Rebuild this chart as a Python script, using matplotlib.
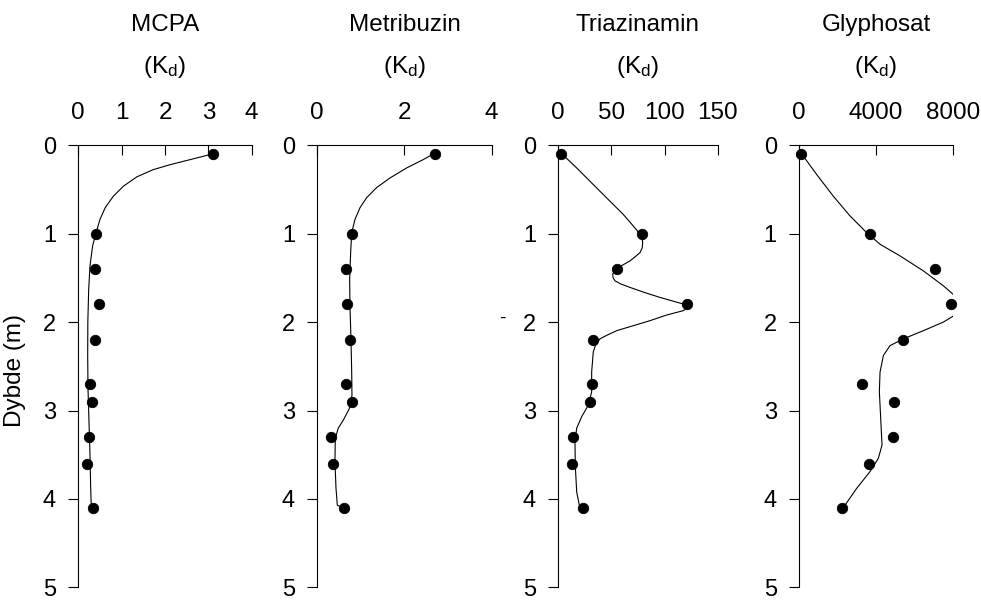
import matplotlib
matplotlib.use("Agg")
import matplotlib.pyplot as plt

plt.rcParams['font.family'] = ['Liberation Sans', 'DejaVu Sans']
plt.rcParams['mathtext.fontset'] = 'custom'
plt.rcParams['mathtext.rm'] = 'Liberation Sans'
plt.rcParams['mathtext.default'] = 'regular'

# measured depths (m)
depth = [0.1, 1.0, 1.4, 1.8, 2.2, 2.7, 2.9, 3.3, 3.6, 4.1]

# Kd values per compound
mcpa = [3.10, 0.41, 0.38, 0.48, 0.38, 0.27, 0.32, 0.25, 0.20, 0.33]
metribuzin = [2.70, 0.79, 0.67, 0.69, 0.75, 0.65, 0.80, 0.31, 0.35, 0.61]
triazinamin = [2.5, 78.5, 55, 121.4, 32.4, 31.4, 29.8, 13.5, 12.6, 23.5]
glyphosat = [100, 3700, 7080, 7890, 5430, 3300, 4940, 4910, 3640, 2250]

# smoothed curves
mcpa_curve_depth = [0.096, 0.126, 0.163, 0.22, 0.276, 0.358, 0.464, 0.576, 0.707, 0.839,
                    0.989, 1.14, 1.365, 1.63, 2.0, 2.38, 2.75, 3.13, 3.5, 3.88, 4.09]
mcpa_curve = [3.10, 2.88, 2.58, 2.12, 1.73, 1.35, 1.04, 0.81, 0.62, 0.50,
              0.41, 0.33, 0.27, 0.24, 0.22, 0.217, 0.224, 0.247, 0.27, 0.286, 0.30]

metribuzin_curve_depth = [0.088, 0.163, 0.257, 0.37, 0.48, 0.595, 0.707, 0.839, 0.99, 1.214,
                          1.515, 1.815, 2.19, 2.565, 2.83, 2.98, 3.11, 3.20, 3.32, 3.58,
                          3.88, 4.07, 4.1]
metribuzin_curve = [2.70, 2.43, 2.05, 1.67, 1.36, 1.13, 0.98, 0.865, 0.79, 0.766,
                    0.743, 0.75, 0.773, 0.79, 0.796, 0.734, 0.596, 0.48, 0.413, 0.406,
                    0.43, 0.46, 0.58]

triazinamin_curve_depth = [0.088, 0.257, 0.445, 0.633, 0.783, 0.914, 0.97, 1.027, 1.065, 1.10,
                           1.16, 1.214, 1.26, 1.308, 1.383, 1.42, 1.458, 1.50, 1.534, 1.57,
                           1.608, 1.665, 1.721, 1.796, 1.833, 1.871, 1.92, 1.984, 2.097, 2.15,
                           2.19, 2.26, 2.34, 2.565, 2.79, 2.94, 3.07, 3.20, 3.35, 3.62,
                           3.92, 4.07]
triazinamin_curve = [2.5, 17.3, 32.9, 48.6, 61.2, 70.6, 74.5, 77.5, 79.0, 79.4,
                     79.0, 76.9, 72.5, 67.5, 56.5, 53.0, 51.2, 51.6, 53.4, 59.0,
                     67.5, 81.0, 95.7, 117.6, 122.3, 117.6, 102.0, 86.3, 55.0, 45.5,
                     39.2, 35.0, 32.9, 31.4, 31.4, 28.2, 22.0, 17.3, 15.7, 16.0,
                     17.3, 19.8]

glyphosat_curve_depth = [0.088, 0.332, 0.577, 0.80, 0.989, 1.12, 1.252, 1.421, 1.59, 1.721,
                         1.815, 1.909, 2.0, 2.097, 2.19, 2.266, 2.378, 2.565, 2.79, 3.09,
                         3.39, 3.54, 3.69, 3.88, 4.07]
glyphosat_curve = [104, 921, 1787, 2654, 3522, 4216, 5257, 6471, 7512, 8206,
                   8380, 8206, 7512, 6471, 5430, 4736, 4390, 4216, 4181, 4251,
                   4320, 4129, 3695, 3001, 2394]

titles = ['MCPA', 'Metribuzin', 'Triazinamin', 'Glyphosat']
xmax = [4, 4, 150, 8000]
xticks = [[0, 1, 2, 3, 4], [0, 2, 4], [0, 50, 100, 150], [0, 4000, 8000]]
xticklabels = [['0', '1', '2', '3', '4'], ['0', '2', '4'], ['0', '50', '100', '150'],
               ['0', '4000', '8000']]
yticks = [0, 1, 2, 3, 4, 5]

points = [mcpa, metribuzin, triazinamin, glyphosat]
curves = [(mcpa_curve_depth, mcpa_curve), (metribuzin_curve_depth, metribuzin_curve),
          (triazinamin_curve_depth, triazinamin_curve),
          (glyphosat_curve_depth, glyphosat_curve)]

# axes boxes [left, bottom, width, height] in figure fraction
boxes = [[0.0798, 0.021, 0.1768, 0.737],
         [0.3234, 0.021, 0.1778, 0.737],
         [0.5691, 0.021, 0.1625, 0.737],
         [0.8145, 0.021, 0.1567, 0.737]]

fig = plt.figure(figsize=(9.81, 6.0), dpi=100)

for i in range(4):
    ax = fig.add_axes(boxes[i])
    cd, cv = curves[i]
    ax.plot(cv, cd, color='black', lw=0.8, zorder=2)
    ax.plot(points[i], depth, 'o', color='black', ms=7.5, mec='black',
            mew=0.6, zorder=3, clip_on=False)
    ax.set_xlim(0, xmax[i])
    ax.set_ylim(5, 0)
    ax.xaxis.tick_top()
    ax.set_xticks(xticks[i])
    ax.set_xticklabels(xticklabels[i])
    ax.set_yticks(yticks)
    ax.tick_params(axis='x', direction='in', length=7, width=0.8, pad=15,
                   labelsize=17.5, top=True, bottom=False)
    ax.tick_params(axis='y', direction='out', length=7, width=0.8, pad=9,
                   labelsize=17)
    for s in ['right', 'bottom']:
        ax.spines[s].set_visible(False)
    for s in ['left', 'top']:
        ax.spines[s].set_linewidth(0.8)
    cx = boxes[i][0] + boxes[i][2] / 2
    fig.text(cx, 0.959, titles[i], ha='center', va='center', fontsize=17.5)
    fig.text(cx, 0.888, r'(K$_{d}$)', ha='center', va='center', fontsize=17.5)

fig.text(0.0153, 0.383, 'Dybde (m)', rotation=90, ha='center', va='center', fontsize=17.5)
fig.text(0.5117, 0.47, '-', ha='center', va='center', fontsize=14)

fig.savefig('out.png', dpi=100)
